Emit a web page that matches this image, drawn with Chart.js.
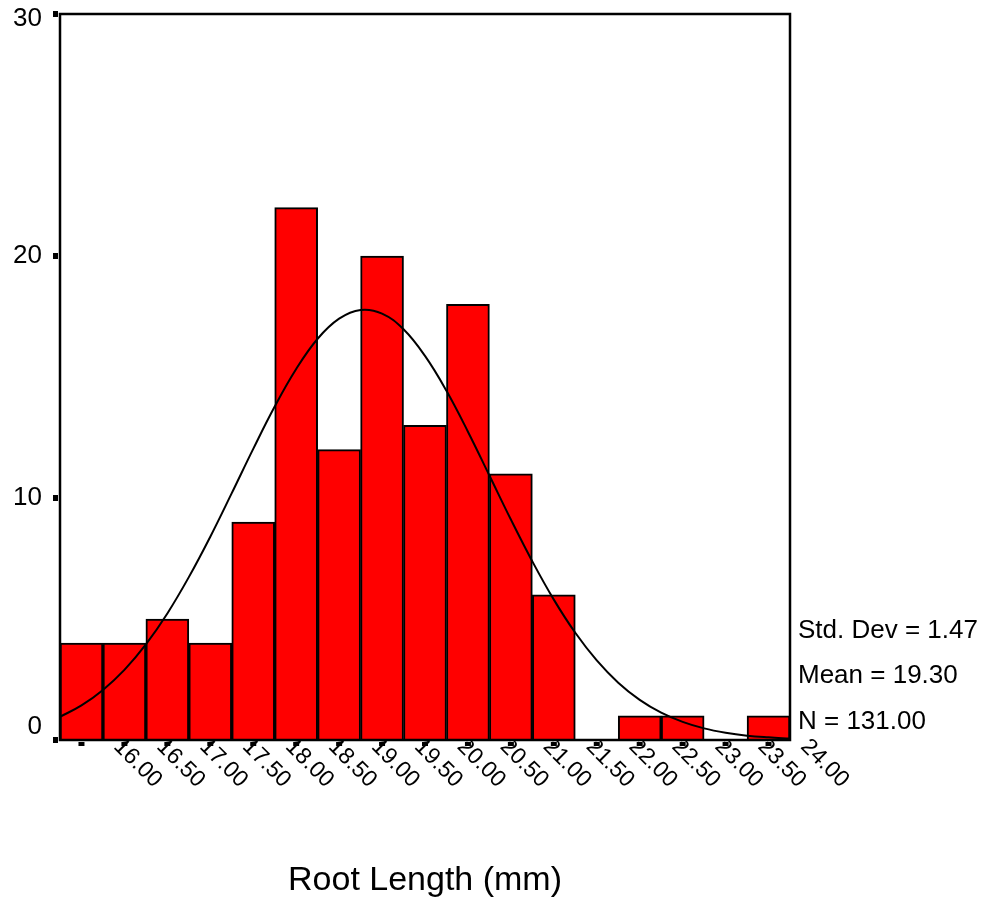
<!DOCTYPE html>
<html>
<head>
<meta charset="utf-8">
<script src="https://cdn.jsdelivr.net/npm/chart.js@4"></script>
<style>html,body{margin:0;padding:0;background:#fff;}canvas{display:block;}</style>
</head>
<body>
<canvas id="c" width="985" height="901"></canvas>
<script>
// Histogram bins (bin centres, width 0.5 mm) and frequencies
const binCenters = [16.00,16.50,17.00,17.50,18.00,18.50,19.00,19.50,20.00,20.50,21.00,21.50,22.00,22.50,23.00,23.50,24.00];
const counts     = [4,4,5,4,9,22,12,20,13,18,11,6,0,1,1,0,1];

// Tick marks / labels along the x axis (as printed on the chart)
const xTickPositions = [16.00,16.50,17.00,17.50,18.00,18.50,19.00,19.50,20.00,20.50,21.00,21.50,22.00,22.50,23.00,23.50,24.00,24.50];
const xTickLabels    = ['','16.00','16.50','17.00','17.50','18.00','18.50','19.00','19.50','20.00','20.50','21.00','21.50','22.00','22.50','23.00','23.50','24.00'];
const xTickMarks     = [16.00,16.50,17.00,17.50,18.00,18.50,19.00,19.50,20.00,20.50,21.00,21.50,22.00,22.50,23.00,23.50,24.00];

// Y axis ticks
const yTicks = [0,10,20,30];

// Normal curve (x in mm, y in frequency)
const curveX = [15.75,16.00,16.25,16.50,16.75,17.00,17.25,17.50,17.75,18.00,18.25,18.50,18.75,19.00,19.25,19.50,19.75,20.00,20.25,20.50,20.75,21.00,21.25,21.50,21.75,22.00,22.25,22.50,22.75,23.00,23.25,23.50,23.75,24.00,24.25];
const curveY = [0.96,1.43,2.07,2.90,3.95,5.23,6.73,8.40,10.20,12.03,13.78,15.33,16.58,17.41,17.77,17.62,16.97,15.87,14.43,12.74,10.93,9.11,7.38,5.80,4.43,3.29,2.37,1.66,1.13,0.75,0.48,0.30,0.18,0.11,0.06];

// Summary statistics
const statLines = ['Std. Dev = 1.47','Mean = 19.30','N = 131.00'];
const xTitle = 'Root Length (mm)';

const FONT = '"Liberation Sans", Arial, Helvetica, sans-serif';

const decor = {
  id: 'decor',
  afterDraw(chart) {
    const ctx = chart.ctx;
    const a = chart.chartArea;
    const xs = chart.scales.x, ys = chart.scales.y;
    ctx.save();
    // frame
    ctx.strokeStyle = '#000';
    ctx.lineWidth = 2.5;
    ctx.strokeRect(a.left, a.top, a.right - a.left, a.bottom - a.top);
    ctx.fillStyle = '#000';
    // y ticks + labels
    ctx.font = '26px ' + FONT;
    ctx.textAlign = 'right';
    ctx.textBaseline = 'middle';
    yTicks.forEach(v => {
      const py = ys.getPixelForValue(v);
      ctx.fillRect(a.left - 7, py - 3, 5, 6);
      let off = 0;
      if (v === ys.min) off = -13;
      if (v === ys.max) off = 5;
      ctx.fillText(String(v), a.left - 18, py + off);
    });
    // x tick marks
    xTickMarks.forEach(v => {
      const px = xs.getPixelForValue(v);
      ctx.fillRect(px - 3, a.bottom + 2, 6, 4);
    });
    // x tick labels rotated 45deg
    ctx.font = '23px ' + FONT;
    ctx.textAlign = 'left';
    ctx.textBaseline = 'top';
    xTickPositions.forEach((v, i) => {
      const lab = xTickLabels[i];
      if (!lab) return;
      const px = xs.getPixelForValue(v);
      ctx.save();
      ctx.translate(px + 1, a.bottom - 5);
      ctx.rotate(Math.PI / 4);
      ctx.fillText(lab, 0, 0);
      ctx.restore();
    });
    // stats
    ctx.font = '26px ' + FONT;
    ctx.textAlign = 'left';
    ctx.textBaseline = 'alphabetic';
    const baselines = [638, 683, 729];
    statLines.forEach((s, i) => ctx.fillText(s, a.right + 8, baselines[i]));
    // axis title
    ctx.font = '34px ' + FONT;
    ctx.textAlign = 'center';
    ctx.fillText(xTitle, (a.left + a.right) / 2, 890);
    ctx.restore();
  }
};

new Chart(document.getElementById('c'), {
  type: 'bar',
  data: {
    datasets: [
      {
        type: 'line',
        label: 'Normal',
        data: curveX.map((x, i) => ({x: x, y: curveY[i]})),
        borderColor: '#000',
        borderWidth: 2,
        pointRadius: 0,
        tension: 0.4,
        fill: false,
        order: 0
      },
      {
        type: 'bar',
        label: 'Frequency',
        data: binCenters.map((x, i) => ({x: x, y: counts[i]})),
        backgroundColor: '#ff0000',
        borderColor: '#000',
        borderWidth: 2,
        barPercentage: 1,
        categoryPercentage: 1,
        order: 1
      }
    ]
  },
  options: {
    responsive: false,
    animation: false,
    devicePixelRatio: 1,
    layout: { padding: { left: 60, top: 14, right: 195, bottom: 161 } },
    plugins: { legend: { display: false }, tooltip: { enabled: false }, title: { display: false } },
    scales: {
      x: { type: 'linear', display: false, min: 15.75, max: 24.25, offset: false },
      y: { type: 'linear', display: false, min: 0, max: 30 }
    }
  },
  plugins: [decor]
});
</script>
</body>
</html>
